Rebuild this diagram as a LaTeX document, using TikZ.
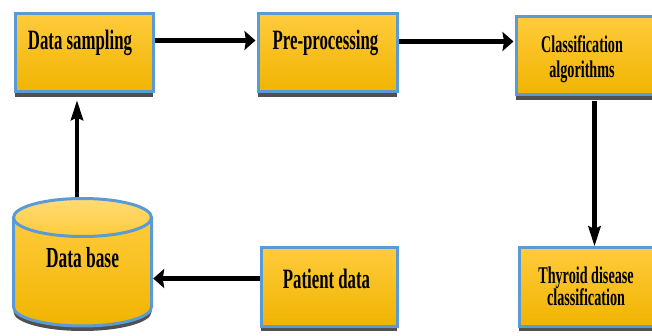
\documentclass[tikz,border=0pt]{standalone}
\usepackage{fontspec}
\setmainfont{Liberation Serif}
\usetikzlibrary{arrows.meta,calc,shadows}
\definecolor{boxtop}{HTML}{FFCB3C}
\definecolor{boxbot}{HTML}{F0B400}
\definecolor{boxedge}{HTML}{5B9BD5}
\definecolor{shadowc}{HTML}{505050}
\tikzset{
  box/.style={draw=boxedge, line width=3pt, top color=boxtop, bottom color=boxbot,
    anchor=north west, inner sep=0pt, minimum height=78pt,
    drop shadow={shadow xshift=0pt, shadow yshift=-5pt, fill=shadowc, opacity=1}},
  biglbl/.style={font=\bfseries\fontsize{28}{28}\selectfont, inner sep=0pt, anchor=base, xscale=0.6},
  smalllbl/.style={font=\bfseries\fontsize{24}{24}\selectfont, inner sep=0pt, anchor=base, xscale=0.59},
  harr/.style={line width=5.5pt, -{Stealth[length=11pt,width=19pt,inset=1.5pt]}, shorten >=1pt},
  varr/.style={line width=4.6pt, -{Stealth[length=20pt,width=12pt,inset=2.5pt]}, shorten >=0pt}
}
\begin{document}
\begin{tikzpicture}[x=1pt,y=-1pt]
\useasboundingbox (0,0) rectangle (652,336);
% boxes
\node[box, minimum width=138pt] (ds) at (13.5,12.5) {};
\node[box, minimum width=139pt] (pp) at (256.5,12.5) {};
\node[box, minimum width=140pt] (ca) at (514.5,15.5) {};
\node[box, minimum width=136pt] (pd) at (259.5,246.5) {};
\node[box, minimum width=140pt] (th) at (517.5,246.5) {};
% cylinder
\fill[shadowc] (13.5,222.5) -- (13.5,312) arc[start angle=180,end angle=360,x radius=69pt,y radius=19pt] -- (151.5,222.5) -- cycle;
\path[top color=boxtop, bottom color=boxbot] (13.5,217.5) -- (13.5,307) arc[start angle=180,end angle=360,x radius=69pt,y radius=19pt] -- (151.5,217.5) -- cycle;
\draw[boxedge, line width=3pt] (13.5,217.5) -- (13.5,307) arc[start angle=180,end angle=360,x radius=69pt,y radius=19pt] -- (151.5,217.5);
\draw[boxedge, line width=3pt, top color=boxtop!70!white, bottom color=boxtop] (82.5,217.5) ellipse[x radius=69pt, y radius=19pt];
\node[minimum width=141pt, minimum height=130pt, inner sep=0pt] (db) at (82.5,262) {};
% labels
\node[biglbl] (tds) at (80,50) {Data sampling};
\node[biglbl] (tpp) at (325.5,50) {Pre-processing};
\node[smalllbl] (tca1) at (582,53) {Classification};
\node[smalllbl] (tca2) at (582,78) {algorithms};
\node[biglbl] (tpd) at (326.5,288) {Patient data};
\node[biglbl, font=\bfseries\fontsize{29}{29}\selectfont] (tdb) at (82.5,268) {Data base};
\node[smalllbl] (tth1) at (586,283) {Thyroid disease};
\node[smalllbl] (tth2) at (586,305) {classification};
% connectors
\draw[harr] ($(ds.east)+(0,-12.5)$) coordinate (a1) -- (a1 -| pp.west);
\draw[harr] ($(pp.east)+(0,-11.5)$) coordinate (a2) -- (a2 -| ca.west);
\draw[varr] ($(ca.south)+(8.5,5)$) coordinate (a3) -- (a3 |- th.north);
\draw[harr, shorten >=0pt] ($(pd.west)+(0,-8.5)$) coordinate (a4) -- (a4 -| db.east);
\draw[varr] ($(db.north)+(-5.5,0)$) coordinate (a5) -- ($(a5 |- ds.south)+(0,6.5)$);
\end{tikzpicture}
\end{document}
